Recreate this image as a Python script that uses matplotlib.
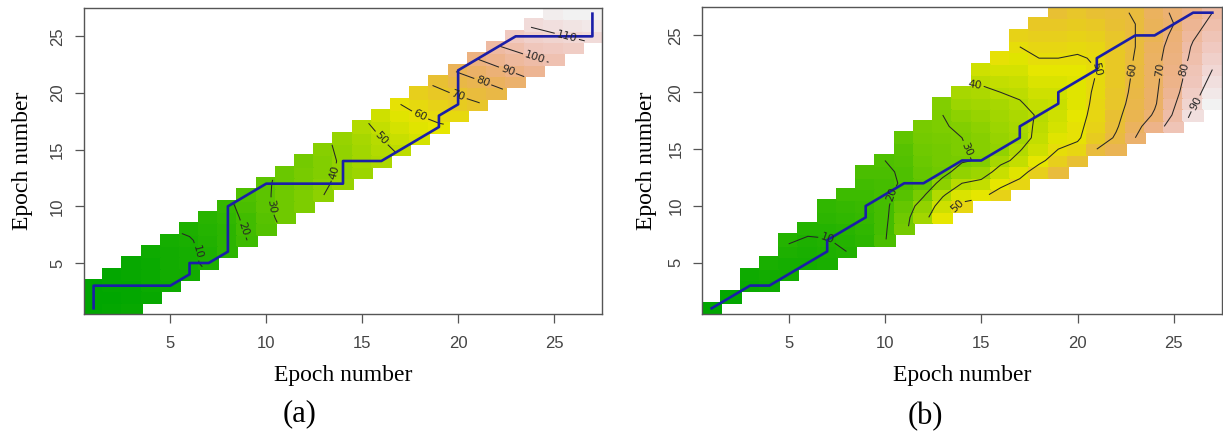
import colorsys
import numpy as np
import matplotlib
matplotlib.use('Agg')
from matplotlib import pyplot as plt
from matplotlib.colors import ListedColormap

# 축 눈금
ticks = [5, 10, 15, 20, 25]
n_epoch = 27

# (a) 누적 비용: 열 i 마다 j = i-2 .. i+2 (None = 창 밖)
a_cost = [
    [None, None, 1, 1.5, 2],
    [None, 2.5, 2, 2.5, 3],
    [3.5, 3, 3, 3.5, 4.5],
    [4.5, 5, 5, 5.5, 6.5],
    [6, 7, 7, 7.5, 8.5],
    [8, 9, 9, 9.5, 11],
    [11, 11.5, 12, 13, 14],
    [16, 16, 16, 17, 18],
    [20, 21, 22, 23.5, 25],
    [26, 27.5, 29, 29, 29],
    [33, 33, 33, 32.5, 32],
    [37, 36.5, 36, 35, 34],
    [40, 39, 38, 38, 38.5],
    [42, 41.5, 41, 41.5, 42],
    [44, 44.5, 45, 46.5, 48],
    [47, 48.5, 50, 52, 54],
    [51, 53, 55, 57.5, 60],
    [55, 57.5, 60, 63, 66],
    [59, 62, 65, 68.5, 72],
    [63, 67, 71, 76, 81],
    [69, 74, 79, 84.5, 90],
    [77, 82.5, 88, 93.5, 99],
    [86, 91.5, 97, 101.5, 106],
    [95, 99.5, 104, 107.5, 111],
    [102, 105.5, 109, 112.5, 116],
    [107, 110.5, 114, 117, None],
    [112, 115, 118, None, None],
]
a_path_x = [1, 1, 1, 2, 3, 4, 5, 6, 6, 7, 8, 8, 8, 8, 8, 9, 10, 11, 12, 13, 14, 14, 14,
            15, 16, 17, 18, 19, 19, 20, 20, 20, 20, 21, 22, 23, 24, 25, 26, 27, 27, 27]
a_path_y = [1, 2, 3, 3, 3, 3, 3, 4, 5, 5, 6, 7, 8, 9, 10, 11, 12, 12, 12, 12, 12, 13, 14,
            14, 14, 15, 16, 17, 18, 19, 20, 21, 22, 23, 24, 25, 25, 25, 25, 25, 26, 27]

# (b) 누적 비용: 열 i 의 첫 행 번호와 그 위로의 값
b_low = [1, 2, 3, 3, 4, 5, 5, 6, 7, 7, 8, 9, 9, 10, 11, 11, 12, 13, 13, 14, 15, 15, 16, 17, 17, 18, 19]
b_cost = [
    [1],
    [2.5],
    [4, 5.5],
    [5, 6.5, 8],
    [6, 7.5, 9, 10.5],
    [7.5, 8.5, 9.5, 11],
    [8.5, 9, 9.8, 11, 12.5, 14],
    [10, 11, 12, 13.5, 15, 16.5],
    [13, 13.5, 14.5, 15.5, 16.5, 18, 19.5],
    [19.5, 19, 18.5, 18.5, 18.5, 19, 19.5, 20],
    [28, 27, 25, 22.5, 20.5, 20.5, 21, 22.5, 24],
    [37, 34, 29, 24, 25, 26, 27, 28, 29],
    [48, 44, 39, 33, 27, 28, 28.5, 29, 29.5, 30, 31],
    [52, 46, 40, 34, 29, 29.5, 30, 31, 33, 35.5, 38],
    [48, 42, 36, 31, 31.5, 32, 33, 34.5, 36.5, 38.5, 41, 44],
    [53, 48, 43, 38, 34, 34.5, 35.5, 36.5, 38, 40, 42.5, 45.5, 49],
    [52, 47, 42, 39.5, 37, 38, 38.5, 39.5, 41, 43, 45, 47.5, 50, 52.5],
    [54, 48, 44, 42, 41, 40.5, 42, 44, 46, 48, 50, 52, 54, 56],
    [60, 54, 50, 47, 45, 44, 43, 44, 46, 48, 50, 52, 54, 56, 58],
    [58, 52, 49, 48.5, 48, 47.5, 47.5, 47, 48, 49.5, 51, 53, 55, 57],
    [60, 55, 53, 52, 51.5, 51, 50.5, 50, 50.5, 52, 54, 56, 58],
    [65, 61, 59, 58, 57, 56.5, 56, 55.5, 55.5, 55.5, 57, 58, 59],
    [70, 67, 64.5, 63, 62, 61.5, 61, 60.5, 60, 60, 60, 60.5],
    [76, 71, 69, 68.5, 68, 68, 67.5, 67, 65, 66, 67],
    [84, 81, 79, 77, 76, 75, 74, 73, 72, 70, 71],
    [92, 89, 87, 85, 84, 82, 81, 79, 77, 75],
    [96, 94, 92, 90, 88, 86, 84, 82, 80],
]
b_path_x = [1, 2, 3, 4, 5, 6, 7, 7, 8, 9, 9, 10, 11, 12, 13, 14, 15, 16, 17, 17, 18, 19,
            19, 20, 21, 21, 22, 23, 24, 25, 26, 27]
b_path_y = [1, 2, 3, 3, 4, 5, 6, 7, 8, 9, 10, 11, 12, 12, 13, 14, 14, 15, 16, 17, 18, 19,
            20, 21, 22, 23, 24, 25, 25, 26, 27, 27]


def terrain_colors(n):
    # R 의 terrain.colors(n)
    k = n // 2
    out = []
    for t in np.linspace(0, 1, k):
        out.append(colorsys.hsv_to_rgb(1/3 - t/6, 1.0, 0.65 + 0.25*t))
    for t in np.linspace(0, 1, n - k + 1)[1:]:
        out.append(colorsys.hsv_to_rgb(1/6 - t/6, 1.0 - t, 0.9 + 0.05*t))
    return ListedColormap(out)


cmap = terrain_colors(100)

# 행렬 만들기
Za = np.full((n_epoch, n_epoch), np.nan)
for i, col in enumerate(a_cost):
    for k, v in enumerate(col):
        if v is not None:
            Za[i + k - 2, i] = v

Zb = np.full((n_epoch, n_epoch), np.nan)
for i, col in enumerate(b_cost):
    for k, v in enumerate(col):
        Zb[b_low[i] - 1 + k, i] = v

tick_font = ['Liberation Sans Narrow', 'Liberation Sans', 'DejaVu Sans']
serif = ['Liberation Serif', 'DejaVu Serif']


def panel(ax, Z, px, py, levels, ylab_x):
    edges = np.arange(0.5, n_epoch + 1.5, 1)
    centers = np.arange(1, n_epoch + 1)
    Zm = np.ma.masked_invalid(Z)
    ax.pcolormesh(edges, edges, Zm, cmap=cmap, vmin=np.nanmin(Z), vmax=np.nanmax(Z),
                  shading='flat', edgecolors='face', linewidth=0.3)
    cs = ax.contour(centers, centers, Zm, levels=levels, colors='#262626', linewidths=0.75)
    ax.clabel(cs, fmt='%d', fontsize=8, inline=True, inline_spacing=2)
    ax.plot(px, py, color='#1a1ea8', lw=1.9)
    ax.set_xlim(0.5, n_epoch + 0.5)
    ax.set_ylim(0.5, n_epoch + 0.5)
    ax.set_xticks(ticks)
    ax.set_yticks(ticks)
    ax.tick_params(length=6.5, width=0.9, color='#555555', labelcolor='#444444',
                   labelsize=12)
    ax.tick_params(axis='x', pad=9)
    ax.tick_params(axis='y', pad=7)
    for lab in ax.get_xticklabels() + ax.get_yticklabels():
        lab.set_family(tick_font)
    for lab in ax.get_yticklabels():
        lab.set_rotation(90)
        lab.set_va('center')
    for s in ax.spines.values():
        s.set_color('#555555')
        s.set_linewidth(1.0)
    ax.set_xlabel('Epoch number', family=serif, fontsize=17)
    ax.set_ylabel('Epoch number', family=serif, fontsize=17)
    ax.xaxis.set_label_coords(0.5, -0.167)
    ax.yaxis.set_label_coords(ylab_x, 0.5)


fig = plt.figure(figsize=(12.23, 4.46), dpi=100)
ax1 = fig.add_axes([84/1223, 1 - 314/446, 518/1223, 306/446])
ax2 = fig.add_axes([702/1223, 1 - 314/446, 520/1223, 307/446])

panel(ax1, Za, a_path_x, a_path_y, np.arange(10, 120, 10), -0.098)
panel(ax2, Zb, b_path_x, b_path_y, np.arange(10, 100, 10), -0.087)

fig.text(300/1223, 1 - 414/446, '(a)', family=serif, fontsize=22, ha='center', va='center')
fig.text(925/1223, 1 - 417/446, '(b)', family=serif, fontsize=22, ha='center', va='center')

fig.savefig('out.png', dpi=100)
